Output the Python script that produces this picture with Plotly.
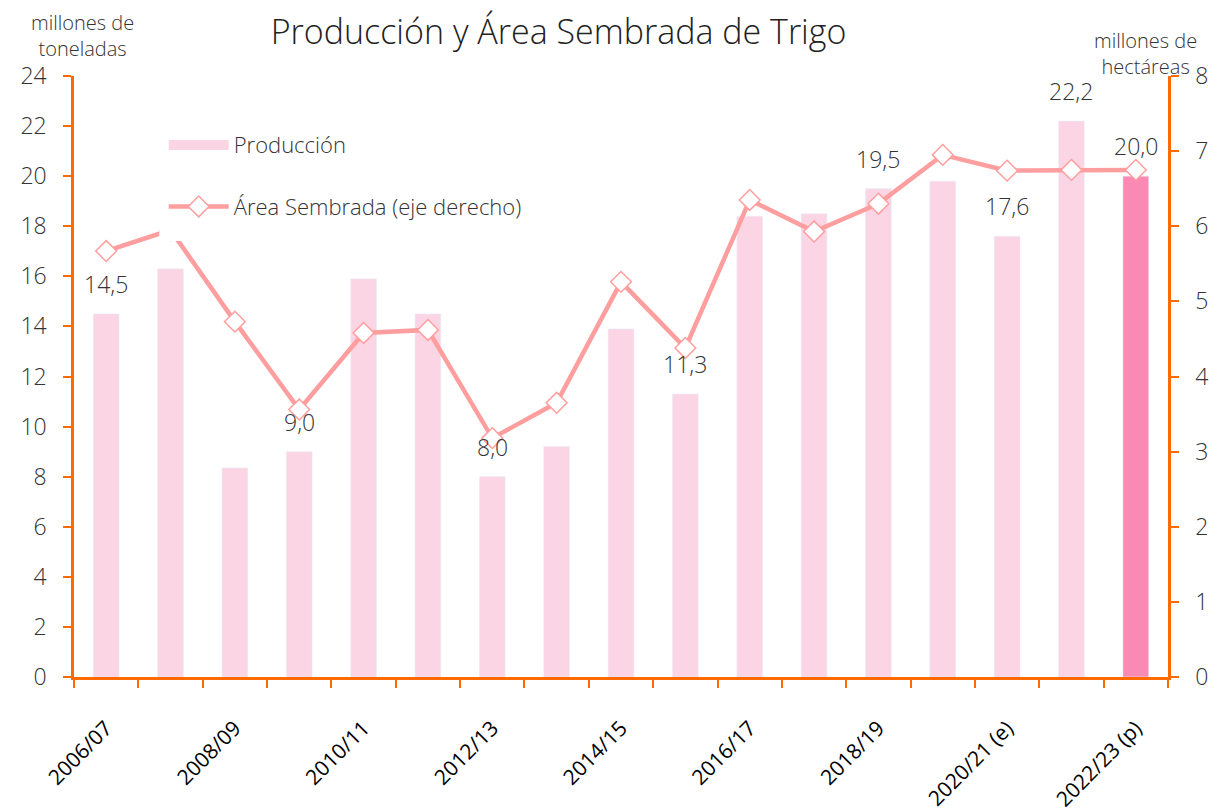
import plotly.graph_objects as go

campanas = ["2006/07", "2007/08", "2008/09", "2009/10", "2010/11", "2011/12",
            "2012/13", "2013/14", "2014/15", "2015/16", "2016/17", "2017/18",
            "2018/19", "2019/20", "2020/21 (e)", "2021/22", "2022/23 (p)"]
produccion = [14.5, 16.3, 8.35, 9.0, 15.9, 14.5, 8.0, 9.2, 13.9, 11.3,
              18.4, 18.5, 19.5, 19.8, 17.6, 22.2, 20.0]
area = [5.67, 5.95, 4.73, 3.56, 4.58, 4.62, 3.18, 3.65, 5.26, 4.38,
        6.35, 5.93, 6.30, 6.95, 6.74, 6.75, 6.75]
con_etiqueta = [0, 3, 6, 9, 12, 14, 15, 16]

FONT = "Open Sans"
ORANGE = "#FF6A00"
PINK = "#FCD5E5"
PINK_DARK = "#F98AB4"
LINE = "#FF9E9E"
TXT = "#333333"

x = list(range(len(campanas)))
bar_colors = [PINK] * (len(campanas) - 1) + [PINK_DARK]

fig = go.Figure()
fig.add_trace(go.Bar(x=x, y=produccion, name="Producción", marker_color=bar_colors,
                     width=0.4, showlegend=False, yaxis="y"))
# legend entry for the bars (wide swatch like the original)
fig.add_trace(go.Scatter(x=[None], y=[None], name="Producción", mode="lines",
                         line=dict(color=PINK, width=14), legendgroup="a", yaxis="y"))
fig.add_trace(go.Scatter(x=x, y=area, name="Área Sembrada (eje derecho)", mode="lines+markers",
                         line=dict(color=LINE, width=4.5),
                         marker=dict(symbol="diamond", size=16, color="white",
                                     line=dict(color=LINE, width=1.5)),
                         legendgroup="b", yaxis="y2"))

for i in con_etiqueta:
    fig.add_annotation(x=x[i], y=produccion[i], xref="x", yref="y",
                       text=f"{produccion[i]:.1f}".replace(".", ","),
                       showarrow=False, yanchor="bottom", yshift=12,
                       font=dict(family=FONT, size=23, color=TXT, weight=300))

fig.add_annotation(xref="paper", yref="paper", x=0.008, y=1.068, xanchor="center",
                   yanchor="middle", text="millones de<br>toneladas", showarrow=False,
                   font=dict(family=FONT, size=20, color=TXT, weight=300))
fig.add_annotation(xref="paper", yref="paper", x=0.979, y=1.038, xanchor="center",
                   yanchor="middle", text="millones de<br>hectáreas", showarrow=False,
                   font=dict(family=FONT, size=20, color=TXT, weight=300))

# white backing behind the legend (the legend box hides the line there)
fig.add_shape(type="rect", xref="paper", yref="paper", x0=0.078, x1=0.43,
              y0=(677 - 241) / 601, y1=(677 - 118) / 601, fillcolor="white",
              line_width=0, layer="above")

fig.update_layout(
    width=1209, height=811,
    margin=dict(l=74, r=41, t=76, b=134, autoexpand=False),
    paper_bgcolor="white", plot_bgcolor="white",
    font=dict(family=FONT, color=TXT),
    title=dict(text="Producción y Área Sembrada de Trigo", x=0.462, xanchor="center",
               y=0.96, yanchor="middle",
               font=dict(family=FONT, size=34, color="#222222", weight=300)),
    bargap=0.6,
    showlegend=True,
    legend=dict(x=0.082, y=0.92, xanchor="left", yanchor="top", bgcolor="rgba(0,0,0,0)",
                traceorder="grouped", tracegroupgap=30, itemwidth=60,
                font=dict(family=FONT, size=22, color=TXT, weight=300)),
    xaxis=dict(range=[-0.5, len(campanas) - 0.5], tickmode="array",
               tickvals=x[::2], ticktext=campanas[::2], tickangle=-45,
               ticks="outside", ticklen=8, tickcolor="rgba(0,0,0,0)",
               ticklabelstandoff=20, automargin=False,
               tickfont=dict(family=FONT, size=21, color="#000000", weight=500),
               showline=True, linecolor=ORANGE, linewidth=2.5, showgrid=False, zeroline=False,
               minor=dict(tickmode="linear", tick0=-0.5, dtick=1, ticks="outside",
                          ticklen=8, tickwidth=2, tickcolor=ORANGE, showgrid=False)),
    yaxis=dict(range=[0, 24], dtick=2, ticks="outside", ticklen=8, tickwidth=2,
               tickcolor=ORANGE, showline=True, linecolor=ORANGE, linewidth=2.5,
               showgrid=False, zeroline=False, ticklabelstandoff=12, automargin=False,
               tickfont=dict(family=FONT, size=23, color=TXT, weight=300)),
    yaxis2=dict(range=[0, 8], dtick=1, overlaying="y", side="right", ticks="outside",
                ticklen=8, tickwidth=2, tickcolor=ORANGE, showline=True, linecolor=ORANGE,
                linewidth=2.5, showgrid=False, zeroline=False, ticklabelstandoff=12,
                automargin=False,
                tickfont=dict(family=FONT, size=23, color=TXT, weight=300)),
)

fig.write_html("out.html", config={"displayModeBar": False},
               post_script="document.body.style.margin='0';document.body.style.overflow='hidden';")
